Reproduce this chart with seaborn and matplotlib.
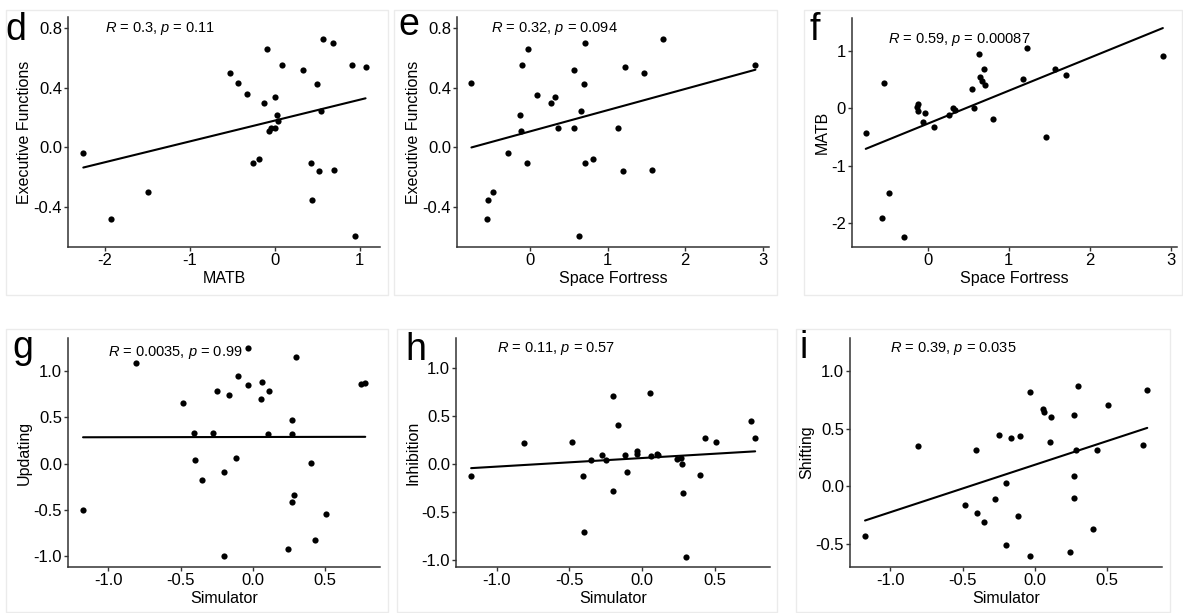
import numpy as np
import pandas as pd
import seaborn as sns
import matplotlib
matplotlib.use("Agg")
import matplotlib.pyplot as plt
from matplotlib.patches import Rectangle
from matplotlib.ticker import FormatStrFormatter, FixedLocator

# ---------------- data ----------------
d_matb = [-2.25, -1.93, -1.49, -0.52, -0.43, -0.33, -0.09, -0.125, 0.0, -0.25, -0.18, 0.03, 0.04,
          -0.04, -0.06, 0.0, 0.09, 0.34, 0.50, 0.57, 0.69, 0.55, 0.43, 0.44, 0.52, 0.70, 0.91, 1.07, 0.95]
d_ef = [-0.034, -0.48, -0.30, 0.50, 0.43, 0.36, 0.66, 0.30, 0.34, -0.107, -0.08, 0.215, 0.175,
        0.13, 0.11, 0.13, 0.555, 0.52, 0.425, 0.727, 0.70, 0.244, -0.107, -0.353, -0.159, -0.148, 0.555, 0.54, -0.597]

e_sf = [-0.754, -0.556, -0.543, -0.47, -0.284, -0.125, -0.116, -0.108, -0.043, -0.02, 0.086, 0.276, 0.32,
        0.358, 0.565, 0.573, 0.629, 0.66, 0.69, 0.707, 0.711, 0.81, 1.13, 1.194, 1.228, 1.474, 1.573, 1.716, 2.905]
e_ef = [0.432, -0.48, -0.353, -0.30, -0.034, 0.215, 0.11, 0.555, -0.107, 0.66, 0.355, 0.30, 0.34,
        0.13, 0.52, 0.13, -0.597, 0.244, 0.427, 0.70, -0.107, -0.08, 0.13, -0.159, 0.54, 0.50, -0.148, 0.727, 0.557]

f_sf = [-0.77, -0.55, -0.567, -0.484, -0.298, -0.137, -0.124, -0.128, -0.058, -0.037, 0.074, 0.26, 0.306,
        0.34, 0.55, 0.563, 0.625, 0.645, 0.666, 0.695, 0.703, 0.807, 1.18, 1.22, 1.465, 1.568, 1.71, 2.905]
f_matb = [-0.43, 0.436, -1.92, -1.477, -2.24, 0.023, 0.08, -0.05, -0.244, -0.087, -0.326, -0.128, 0.0,
          -0.035, 0.326, 0.0, 0.936, 0.54, 0.47, 0.68, 0.41, -0.186, 0.51, 1.05, -0.51, 0.686, 0.57, 0.90]

simulator = [-1.175, -0.81, -0.482, -0.405, -0.400, -0.352, -0.276, -0.248, -0.202, -0.200, -0.165, -0.115,
             -0.107, -0.033, -0.033, 0.053, 0.062, 0.102, 0.110, 0.242, 0.270, 0.271, 0.272, 0.283, 0.300,
             0.398, 0.431, 0.505, 0.749, 0.776]
updating = [-0.50, 1.09, 0.655, 0.331, 0.043, -0.176, 0.335, 0.788, -1.0, -0.094, 0.745, 0.061, 0.942,
            1.248, 0.845, 0.694, 0.881, 0.324, 0.788, -0.924, 0.475, 0.324, -0.414, -0.342, 1.147, 0.007,
            -0.824, -0.547, 0.86, 0.87]
inhibition = [-0.128, 0.222, 0.232, -0.125, -0.707, 0.045, 0.09, 0.038, -0.277, 0.71, 0.409, 0.097, -0.087,
              0.132, 0.104, 0.738, 0.08, 0.10, 0.097, 0.055, 0.062, 0.0, np.nan, -0.298, -0.964, -0.118,
              0.27, 0.232, 0.447, 0.274]
shifting = [-0.436, 0.346, -0.163, 0.311, -0.233, -0.308, -0.11, 0.45, -0.515, 0.026, 0.42, -0.262, 0.433,
            0.823, -0.61, 0.674, 0.645, 0.384, 0.605, -0.573, 0.616, 0.09, -0.102, 0.311, 0.872, -0.372,
            0.314, 0.709, 0.355, 0.837]

panel_letters = ["d", "e", "f", "g", "h", "i"]
x_titles = ["MATB", "Space Fortress", "Space Fortress", "Simulator", "Simulator", "Simulator"]
y_titles = ["Executive Functions", "Executive Functions", "MATB", "Updating", "Inhibition", "Shifting"]
stat_labels = [r"$\it{R}$ = 0.3, $\it{p}$ = 0.11",
               r"$\it{R}$ = 0.32, $\it{p}$ = 0.094",
               r"$\it{R}$ = 0.59, $\it{p}$ = 0.00087",
               r"$\it{R}$ = 0.0035, $\it{p}$ = 0.99",
               r"$\it{R}$ = 0.11, $\it{p}$ = 0.57",
               r"$\it{R}$ = 0.39, $\it{p}$ = 0.035"]

# ---------------- style ----------------
sns.set_theme(style="ticks")
plt.rcParams["font.family"] = ["Liberation Sans", "DejaVu Sans"]
plt.rcParams["mathtext.fontset"] = "custom"
plt.rcParams["mathtext.rm"] = "Liberation Sans"
plt.rcParams["mathtext.it"] = "Liberation Sans:italic"
plt.rcParams["axes.unicode_minus"] = False

W, H = 1183, 613
fig = plt.figure(figsize=(W / 100, H / 100), dpi=100)
fig.patch.set_facecolor("white")

def box(l, t, r, b):
    return [l / W, 1 - b / H, (r - l) / W, (b - t) / H]

# panel frames (light grey)
frames = [(6, 10, 388, 295), (394, 10, 777, 295), (804, 10, 1182, 295),
          (6, 329, 388, 612), (397, 329, 777, 612), (796, 329, 1170, 612)]
for (l, t, r, b) in frames:
    fig.patches.append(Rectangle((l / W, 1 - b / H), (r - l) / W, (b - t) / H,
                                 transform=fig.transFigure, fill=False,
                                 edgecolor="#ebebeb", linewidth=1.0, zorder=0))

axes_boxes = [(68, 17, 380, 247), (457, 17, 769, 247), (852, 18, 1177, 247),
              (68, 338, 380, 567), (456, 338, 770, 567), (850, 338, 1162, 567)]

panels = [
    (d_matb, d_ef), (e_sf, e_ef), (f_sf, f_matb),
    (simulator, updating), (simulator, inhibition), (simulator, shifting),
]
xlims = [(-2.43, 1.24), (-0.94, 3.08), (-0.94, 3.08), (-1.279, 0.878), (-1.279, 0.878), (-1.279, 0.878)]
ylims = [(-0.668, 0.876), (-0.668, 0.876), (-2.42, 1.57), (-1.115, 1.356), (-1.073, 1.31), (-0.703, 1.29)]
xticks = [[-2, -1, 0, 1], [0, 1, 2, 3], [0, 1, 2, 3], [-1.0, -0.5, 0.0, 0.5], [-1.0, -0.5, 0.0, 0.5], [-1.0, -0.5, 0.0, 0.5]]
yticks = [[-0.4, 0.0, 0.4, 0.8], [-0.4, 0.0, 0.4, 0.8], [-2, -1, 0, 1],
          [-1.0, -0.5, 0.0, 0.5, 1.0], [-1.0, -0.5, 0.0, 0.5, 1.0], [-0.5, 0.0, 0.5, 1.0]]
xfmt = ["%d", "%d", "%d", "%.1f", "%.1f", "%.1f"]
yfmt = ["%.1f", "%.1f", "%d", "%.1f", "%.1f", "%.1f"]
label_pos = [(-2.0, 0.8), (-0.5, 0.8), (-0.5, 1.2), (-1.0, 1.2), (-1.0, 1.2), (-1.0, 1.2)]
letter_pos = [(5, 40), (398, 35), (810, 40), (12, 358), (405, 360), (800, 358)]

axis_col = "#333333"
for i in range(6):
    ax = fig.add_axes(box(*axes_boxes[i]))
    xs, ys = panels[i]
    df = pd.DataFrame({"x": xs, "y": ys})
    sns.regplot(data=df, x="x", y="y", ax=ax, ci=None, truncate=True,
                scatter_kws=dict(s=20, color="black", linewidths=0, alpha=1),
                line_kws=dict(color="black", linewidth=1.5))
    ax.set_xlim(*xlims[i])
    ax.set_ylim(*ylims[i])
    ax.xaxis.set_major_locator(FixedLocator(xticks[i]))
    ax.yaxis.set_major_locator(FixedLocator(yticks[i]))
    ax.xaxis.set_major_formatter(FormatStrFormatter(xfmt[i]))
    ax.yaxis.set_major_formatter(FormatStrFormatter(yfmt[i]))
    for s in ["top", "right"]:
        ax.spines[s].set_visible(False)
    for s in ["left", "bottom"]:
        ax.spines[s].set_color(axis_col)
        ax.spines[s].set_linewidth(1.1)
    ax.tick_params(axis="both", direction="out", length=2.8, width=1.0, color=axis_col,
                   labelsize=12, labelcolor="black", pad=1.5)
    ax.set_xlabel(x_titles[i], fontsize=11.5, labelpad=2, color="black")
    ax.set_ylabel(y_titles[i], fontsize=11.5, labelpad=1, color="black")
    ax.set_facecolor("white")
    lx, ly = label_pos[i]
    ax.text(lx, ly, stat_labels[i], ha="left", va="center", fontsize=10.5, color="black")
    px, py = letter_pos[i]
    fig.text(px / W, 1 - py / H, panel_letters[i], ha="left", va="baseline",
             fontsize=27, color="black")

fig.savefig("out.png", dpi=100, facecolor="white")
